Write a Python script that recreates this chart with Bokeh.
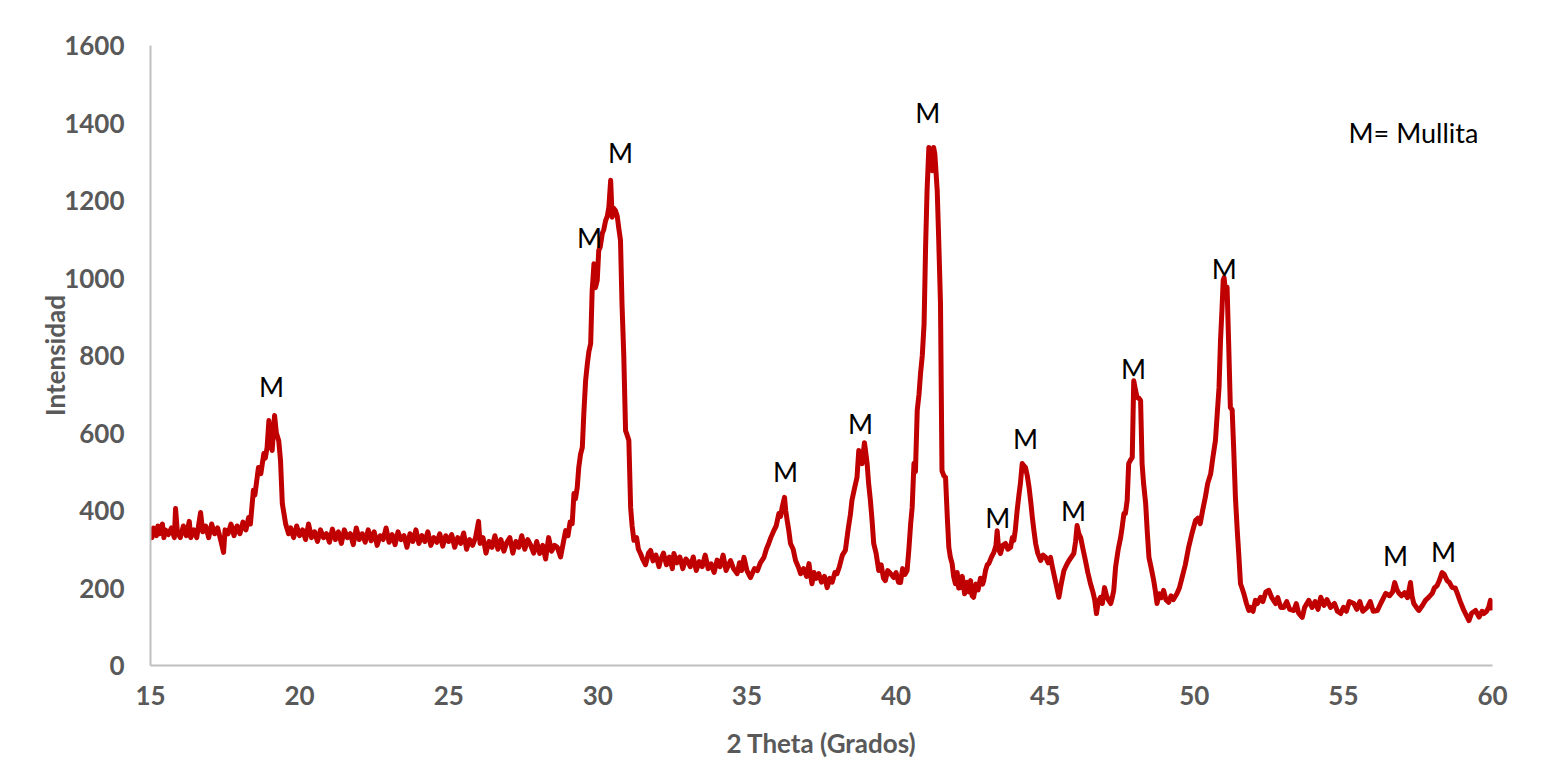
from bokeh.plotting import figure
from bokeh.models import FixedTicker, Label
from bokeh.core.properties import value
from bokeh.embed import file_html
from bokeh.resources import INLINE

two_theta = [
 15.0, 15.05, 15.1, 15.2, 15.25, 15.3, 15.4, 15.45, 15.5, 15.6, 15.7, 15.8, 15.84, 15.9, 16.0, 16.1, 16.2, 16.3, 16.35, 16.45,
 16.55, 16.68, 16.75, 16.85, 16.95, 17.05, 17.15, 17.25, 17.35, 17.45, 17.5, 17.6, 17.7, 17.8, 17.9, 18.0, 18.1, 18.2, 18.29,
 18.35, 18.45, 18.5, 18.62, 18.7, 18.8, 18.85, 18.91, 18.97, 19.02, 19.08, 19.16, 19.22, 19.3, 19.36, 19.42, 19.53, 19.63,
 19.7, 19.8, 19.9, 20.0, 20.1, 20.2, 20.3, 20.4, 20.5, 20.6, 20.7, 20.8, 20.9, 21.0, 21.1, 21.2, 21.3, 21.4, 21.5, 21.6, 21.7,
 21.8, 21.9, 22.0, 22.1, 22.2, 22.3, 22.4, 22.5, 22.6, 22.7, 22.8, 22.9, 23.0, 23.1, 23.2, 23.3, 23.4, 23.5, 23.6, 23.7, 23.8,
 23.9, 24.0, 24.1, 24.2, 24.3, 24.4, 24.5, 24.6, 24.7, 24.8, 24.9, 25.0, 25.1, 25.2, 25.3, 25.4, 25.5, 25.6, 25.7, 25.8, 25.9,
 26.0, 26.05, 26.15, 26.25, 26.35, 26.45, 26.55, 26.65, 26.75, 26.85, 26.95, 27.05, 27.15, 27.25, 27.35, 27.45, 27.55, 27.65,
 27.75, 27.85, 27.95, 28.05, 28.15, 28.25, 28.35, 28.45, 28.55, 28.64, 28.75, 28.85, 28.92, 29.0, 29.07, 29.14,
 29.2, 29.25, 29.31, 29.36, 29.42, 29.48, 29.53, 29.59, 29.65, 29.7, 29.76, 29.81, 29.84, 29.87, 29.92, 29.98, 30.03, 30.08,
 30.15, 30.2, 30.26, 30.32, 30.37, 30.43, 30.48, 30.53, 30.59, 30.65, 30.7, 30.76, 30.81, 30.87, 30.93, 30.98, 31.04, 31.1,
 31.15, 31.21, 31.3, 31.36, 31.43,
 31.5, 31.6, 31.7, 31.77, 31.85, 31.95, 32.05, 32.1, 32.2, 32.3, 32.4, 32.5, 32.55, 32.65, 32.75, 32.85, 32.95, 33.0, 33.1,
 33.2, 33.3, 33.4, 33.5, 33.6, 33.7, 33.8, 33.9, 34.0, 34.1, 34.2, 34.3, 34.45, 34.55, 34.67, 34.75, 34.82, 34.9, 35.0, 35.12,
 35.25, 35.35, 35.45, 35.57, 35.65, 35.73, 35.8, 35.9, 35.98, 36.07, 36.13, 36.18, 36.26, 36.3, 36.35, 36.4, 36.46, 36.55,
 36.63, 36.72, 36.8, 36.9, 37.0, 37.08, 37.12, 37.18, 37.25, 37.32, 37.41, 37.5, 37.6, 37.69, 37.78, 37.86, 37.95, 38.02,
 38.1, 38.2, 38.3, 38.4, 38.47, 38.52, 38.6, 38.69, 38.75, 38.8, 38.86, 38.94, 39.0, 39.03, 39.08, 39.14, 39.2, 39.25, 39.33,
 39.42, 39.5, 39.58, 39.64, 39.72, 39.82, 39.92, 40.0, 40.08, 40.15, 40.22, 40.3, 40.37, 40.43, 40.49, 40.54, 40.6, 40.65,
 40.71, 40.77, 40.82, 40.88, 40.94, 40.99, 41.04, 41.1, 41.16, 41.21, 41.26, 41.3, 41.38, 41.43, 41.49, 41.54, 41.6, 41.66,
 41.72, 41.77, 41.82, 41.88, 41.93, 41.99, 42.05, 42.1, 42.16, 42.22, 42.3, 42.38, 42.45, 42.5, 42.55, 42.6, 42.68, 42.75,
 42.83, 42.9, 42.94, 43.0, 43.06, 43.11, 43.2, 43.28, 43.35, 43.39, 43.44, 43.5, 43.58, 43.67, 43.75, 43.84, 43.9, 43.95,
 44.0, 44.06, 44.12, 44.17, 44.23, 44.29, 44.34, 44.4, 44.46, 44.52, 44.57, 44.62, 44.68, 44.75, 44.85, 44.93, 45.02, 45.1,
 45.18, 45.24, 45.29, 45.38, 45.46, 45.55, 45.63, 45.72, 45.8, 45.88, 45.96, 46.02, 46.07, 46.13, 46.19, 46.27, 46.35, 46.43,
 46.52, 46.6, 46.66, 46.72, 46.78, 46.86, 46.92, 46.99, 47.06, 47.13, 47.2, 47.25, 47.3, 47.36, 47.45, 47.53, 47.58, 47.64,
 47.69, 47.75, 47.8, 47.86, 47.92, 47.97, 48.03, 48.08, 48.14, 48.2, 48.25, 48.3, 48.37, 48.42, 48.48, 48.56, 48.64, 48.7,
 48.75, 48.82, 48.9, 48.97, 49.05, 49.14, 49.22, 49.3, 49.42, 49.5, 49.59, 49.7, 49.81, 49.92, 50.04, 50.12, 50.2, 50.28,
 50.37, 50.45, 50.55, 50.63, 50.71, 50.77, 50.83, 50.88, 50.93, 50.97, 51.0, 51.05, 51.1, 51.15, 51.21, 51.27, 51.32, 51.38,
 51.44, 51.49, 51.55, 51.6, 51.66, 51.75, 51.83, 51.89, 51.97, 52.05, 52.12, 52.22, 52.3, 52.4, 52.5, 52.6, 52.73, 52.8,
 52.9, 53.0, 53.1, 53.2, 53.34, 53.42, 53.5, 53.62, 53.7, 53.84, 53.95, 54.05, 54.15, 54.24, 54.35, 54.45, 54.57, 54.7, 54.8,
 54.91, 55.0, 55.1, 55.2, 55.35, 55.45, 55.55, 55.65, 55.8, 55.9, 56.0, 56.14, 56.25, 56.35, 56.42, 56.55, 56.65, 56.72, 56.8,
 56.87, 56.95, 57.05, 57.15, 57.25, 57.3, 57.36, 57.45, 57.53, 57.65, 57.75, 57.85, 57.98, 58.05, 58.14, 58.22, 58.31, 58.38,
 58.48, 58.55, 58.65, 58.75, 58.82, 58.92, 59.04, 59.12, 59.21, 59.3, 59.43, 59.55, 59.65, 59.71, 59.8, 59.87, 59.93, 59.97,
]

intensity = [
 345, 330, 355, 335, 360, 340, 365, 330, 350, 338, 355, 330, 405, 345, 330, 360, 335, 372, 330, 350,
 330, 395, 345, 360, 330, 365, 340, 355, 325, 292, 350, 340, 365, 335, 360, 340, 370, 350, 382,
 365, 452, 440, 511, 495, 547, 535, 563, 632, 580, 555, 645, 600, 580, 529, 418, 366, 340,
 355, 330, 360, 335, 350, 325, 365, 330, 345, 320, 350, 330, 340, 318, 352, 325, 345, 315, 350, 330, 340,
 312, 355, 325, 340, 318, 350, 322, 345, 310, 335, 325, 355, 318, 338, 312, 345, 325, 335, 305, 340, 320,
 350, 315, 335, 320, 345, 310, 330, 318, 340, 308, 335, 320, 338, 305, 330, 315, 342, 300, 325, 310, 330,
 372, 315, 330, 290, 320, 305, 335, 300, 325, 295, 318, 330, 290, 320, 305, 335, 300, 325,
 310, 290, 320, 289, 310, 275, 330, 295, 310, 305, 280, 320, 348, 335, 370, 366,
 444, 430, 460, 511, 545, 563, 650, 735, 780, 810, 831, 968, 1000, 1037, 975, 994, 1071, 1080,
 1115, 1125, 1148, 1160, 1183, 1252, 1157, 1180, 1174, 1160, 1130, 1097, 934, 800, 606, 595, 581, 408,
 360, 323, 330, 300, 289,
 275, 260, 290, 297, 270, 285, 255, 271, 290, 260, 280, 250, 289, 265, 280, 250, 275, 271, 255,
 280, 245, 268, 255, 285, 250, 262, 240, 272, 255, 285, 245, 271, 250, 237, 265, 245, 279, 245, 227,
 250, 245, 265, 279, 300, 315, 330, 348, 360, 392, 385, 408, 434, 400, 374, 350, 315, 300,
 271, 255, 237, 250, 230, 263, 240, 211, 240, 225, 237, 215, 230, 201, 225, 215, 240, 237,
 255, 285, 297, 355, 390, 426, 455, 485, 555, 540, 521, 575, 540, 521, 470, 426, 370, 315, 290,
 245, 260, 225, 219, 245, 237, 227, 240, 215, 214, 250, 235, 245, 300, 366, 408, 521, 500,
 658, 700, 753, 800, 882, 1079, 1226, 1337, 1300, 1277, 1337, 1320, 1226, 1100, 934, 503, 490, 485,
 380, 305, 280, 263, 230, 211, 240, 200, 201, 230, 185, 215, 190, 219, 180, 176, 210, 195,
 225, 210, 219, 245, 260, 263, 280, 292, 310, 348, 300, 289, 310, 315, 300, 305, 330, 323,
 350, 400, 440, 470, 521, 515, 511, 490, 460, 420, 382, 350, 315, 290, 271, 285, 279, 265,
 279, 255, 237, 205, 176, 215, 245, 260, 271, 280, 289, 320, 361, 340, 330, 300, 271, 240,
 211, 190, 170, 134, 165, 176, 160, 201, 180, 168, 160, 175, 194, 253, 300, 330, 356, 392,
 392, 426, 521, 530, 537, 735, 710, 692, 690, 684, 521, 470, 418, 350, 279, 250, 219, 190,
 160, 185, 175, 194, 170, 163, 180, 170, 186, 200, 227, 260, 305, 340, 374, 380, 366, 400,
 434, 470, 495, 540, 581, 650, 717, 839, 920, 994, 1001, 960, 976, 839, 666, 660, 563, 434,
 350, 289, 211, 200, 186, 160, 142, 150, 140, 168, 160, 176, 165, 190, 194, 175, 160, 175,
 150, 150, 165, 145, 142, 160, 135, 124, 150, 168, 150, 165, 145, 176, 155, 170, 150, 160, 140,
 134, 150, 140, 165, 160, 145, 165, 140, 150, 165, 140, 142, 160, 175, 186, 180, 190, 214, 195,
 186, 180, 188, 175, 214, 180, 160, 150, 142, 155, 168, 175, 186, 200, 206, 220, 240, 235,
 219, 215, 201, 200, 186, 165, 142, 130, 116, 135, 142, 125, 140, 134, 140, 150, 168, 142,
]

label_x = [19.06, 29.72, 30.76, 36.29, 38.81, 41.06, 43.41, 44.34, 45.95, 47.96, 51.01, 56.75, 58.36]
label_y = [720, 1105, 1324, 501, 625, 1427, 382, 586, 400, 766, 1025, 284, 294]
label_text = ["M"] * len(label_x)

x_ticks = [15, 20, 25, 30, 35, 40, 45, 50, 55, 60]
y_ticks = [0, 200, 400, 600, 800, 1000, 1200, 1400, 1600]

p = figure(width=1531, height=761, x_range=(15, 60), y_range=(0, 1600),
           output_backend="svg", toolbar_location=None,
           min_border_left=150, min_border_right=39, min_border_top=45, min_border_bottom=96)
p.outline_line_color = None
p.xgrid.visible = False
p.ygrid.visible = False
p.background_fill_color = "white"
p.border_fill_color = "white"

p.line(two_theta, intensity, line_color="#C00000", line_width=5, line_join="round")

p.text(x=label_x, y=label_y, text=label_text, text_align="center", text_baseline="middle",
       text_font=value("Lato"), text_font_size="27px", text_color="black")

p.add_layout(Label(x=57.35, y=1375, text="M= Mullita", text_align="center", text_baseline="middle",
                   text_font="Lato", text_font_size="27px", text_color="black"))

for ax in (p.xaxis[0], p.yaxis[0]):
    ax.axis_line_color = "#BFBFBF"
    ax.axis_line_width = 2
    ax.major_tick_line_color = None
    ax.minor_tick_line_color = None
    ax.major_tick_out = 0
    ax.major_tick_in = 0
    ax.minor_tick_out = 0
    ax.major_label_text_font = "Lato"
    ax.major_label_text_font_style = "bold"
    ax.major_label_text_font_size = "26px"
    ax.major_label_text_color = "#595959"
    ax.axis_label_text_font = "Lato"
    ax.axis_label_text_font_style = "bold"
    ax.axis_label_text_font_size = "26px"
    ax.axis_label_text_color = "#595959"

p.xaxis.ticker = FixedTicker(ticks=x_ticks)
p.yaxis.ticker = FixedTicker(ticks=y_ticks)
p.xaxis.axis_label = "2 Theta (Grados)"
p.yaxis.axis_label = "Intensidad"
p.xaxis.major_label_standoff = 20
p.yaxis.major_label_standoff = 26
p.xaxis.axis_label_standoff = 19
p.yaxis.axis_label_standoff = -10

open("out.html", "w").write(file_html(p, INLINE))
